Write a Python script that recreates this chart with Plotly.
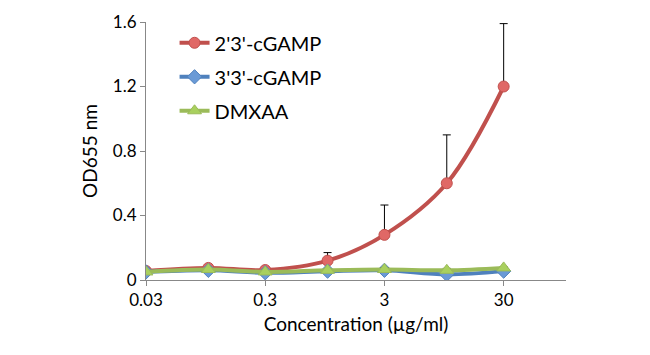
import plotly.graph_objects as go

conc = [0.03, 0.1, 0.3, 1, 3, 10, 30]
tick_vals = [0.03, 0.3, 3, 30]
tick_text = ["0.03", "0.3", "3", "30"]

cgamp23 = [0.056, 0.075, 0.062, 0.12, 0.28, 0.60, 1.20]
cgamp23_err = [0.005, 0.01, 0.005, 0.05, 0.185, 0.30, 0.39]
cgamp33 = [0.05, 0.06, 0.045, 0.055, 0.06, 0.035, 0.055]
cgamp33_err = [0.003, 0.005, 0.003, 0.005, 0.005, 0.008, 0.005]
dmxaa = [0.05, 0.065, 0.05, 0.06, 0.065, 0.06, 0.075]
dmxaa_err = [0.003, 0.005, 0.003, 0.006, 0.01, 0.012, 0.006]

FONT = "Lato, 'Liberation Sans', Arial, sans-serif"

fig = go.Figure()

def add(name, y, err, color, fill, symbol, size):
    fig.add_trace(go.Scatter(
        x=conc, y=y, name=name, mode="lines+markers",
        line=dict(color=color, width=4, shape="spline"),
        marker=dict(symbol=symbol, size=size, color=fill, line=dict(color=color, width=1)),
        error_y=dict(type="data", array=err, arrayminus=[0]*len(err), symmetric=False,
                     color="black", thickness=1, width=4),
        legendgroup=name,
    ))

add("2'3'-cGAMP", cgamp23, cgamp23_err, "#C0504D", "#E06866", "circle", 11)
add("3'3'-cGAMP", cgamp33, cgamp33_err, "#4F81BD", "#6A9AD6", "diamond", 11)
add("DMXAA", dmxaa, dmxaa_err, "#9BBB59", "#A9D05E", "triangle-up", 12)

fig.update_layout(
    width=650, height=355,
    margin=dict(l=138, r=92, t=14, b=83, autoexpand=False),
    plot_bgcolor="white", paper_bgcolor="white",
    font=dict(family=FONT, size=17, color="black"),
    showlegend=True,
    legend=dict(x=0.068, y=0.995, xanchor="left", yanchor="top",
                font=dict(size=20), tracegroupgap=5,
                bgcolor="rgba(0,0,0,0)"),
    xaxis=dict(type="log", range=[-1.5229, 2.0],
               tickvals=tick_vals, ticktext=tick_text,
               showgrid=False, zeroline=False,
               showline=True, linecolor="#888888", linewidth=1,
               ticks="outside", ticklen=5, tickcolor="#888888",
               tickfont=dict(size=17),
               title=dict(text="Concentration (µg/ml)", font=dict(size=19), standoff=8)),
    yaxis=dict(range=[0, 1.6], tickvals=[0, 0.4, 0.8, 1.2, 1.6],
               ticktext=["0", "0.4", "0.8", "1.2", "1.6"],
               showgrid=False, zeroline=False,
               showline=True, linecolor="#888888", linewidth=1,
               ticks="outside", ticklen=5, tickcolor="#888888",
               tickfont=dict(size=17),
               title=dict(text="OD655 nm", font=dict(size=19), standoff=10)),
)

fig.write_html("out.html")
